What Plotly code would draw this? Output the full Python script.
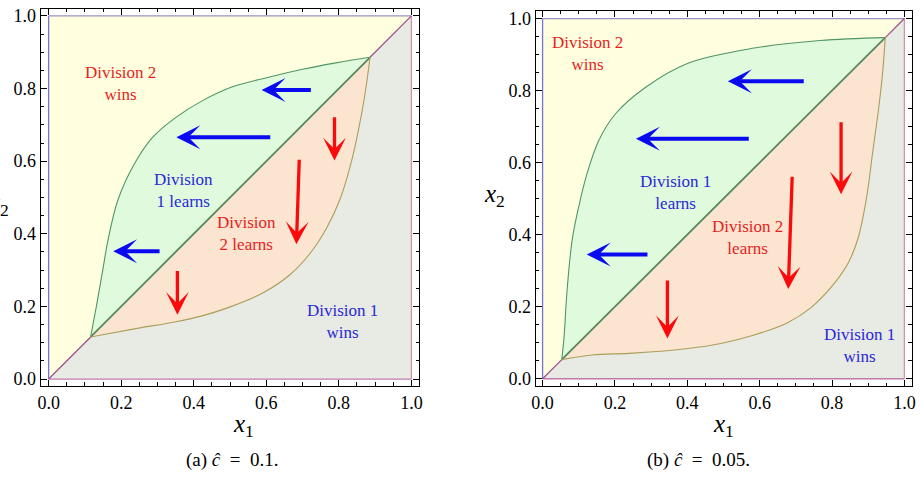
import plotly.graph_objects as go

# ---------------- data ----------------
tick_vals = [0.0, 0.2, 0.4, 0.6, 0.8, 1.0]
tick_text = ["0.0", "0.2", "0.4", "0.6", "0.8", "1.0"]
minor_vals = [0.05, 0.10, 0.15, 0.25, 0.30, 0.35, 0.45, 0.50, 0.55,
              0.65, 0.70, 0.75, 0.85, 0.90, 0.95]

# panel (a) c = 0.1
upper_a_x = [0.116, 0.124, 0.132, 0.148, 0.164, 0.191, 0.235, 0.287, 0.350, 0.423, 0.505, 0.606, 0.700, 0.788, 0.886]
upper_a_y = [0.116, 0.160, 0.202, 0.293, 0.384, 0.493, 0.590, 0.666, 0.720, 0.766, 0.804, 0.831, 0.853, 0.870, 0.886]
lower_a_x = [0.116, 0.160, 0.241, 0.351, 0.423, 0.493, 0.590, 0.666, 0.720, 0.766, 0.804, 0.835, 0.855, 0.872, 0.886]
lower_a_y = [0.116, 0.124, 0.139, 0.158, 0.174, 0.196, 0.237, 0.288, 0.345, 0.415, 0.497, 0.600, 0.690, 0.785, 0.886]

# panel (b) c = 0.05
upper_b_x = [0.053, 0.059, 0.068, 0.082, 0.100, 0.123, 0.155, 0.201, 0.283, 0.402, 0.585, 0.767, 0.947]
upper_b_y = [0.053, 0.112, 0.249, 0.387, 0.478, 0.570, 0.661, 0.735, 0.808, 0.876, 0.918, 0.939, 0.947]
lower_b_x = [0.053, 0.137, 0.250, 0.402, 0.493, 0.580, 0.676, 0.740, 0.804, 0.845, 0.872, 0.895, 0.913, 0.930, 0.941, 0.947]
lower_b_y = [0.053, 0.066, 0.071, 0.084, 0.098, 0.120, 0.155, 0.196, 0.262, 0.322, 0.390, 0.500, 0.634, 0.760, 0.863, 0.947]

# arrows: (tail_x, tail_y, tip_x, tip_y)
blue_arrows_a = [(0.727, 0.796, 0.587, 0.796), (0.615, 0.666, 0.352, 0.666), (0.310, 0.352, 0.178, 0.352)]
red_arrows_a = [(0.788, 0.725, 0.788, 0.602), (0.691, 0.608, 0.683, 0.371), (0.355, 0.302, 0.355, 0.177)]
blue_arrows_b = [(0.726, 0.826, 0.512, 0.826), (0.574, 0.666, 0.258, 0.666), (0.294, 0.345, 0.122, 0.345)]
red_arrows_b = [(0.825, 0.716, 0.825, 0.512), (0.690, 0.565, 0.679, 0.249), (0.345, 0.277, 0.345, 0.112)]

# region labels: (x, y, text, colour-key)
labels_a = [(0.199, 0.815, "Division 2<br>wins", "r"), (0.372, 0.518, "Division<br>1 learns", "b"),
            (0.546, 0.400, "Division<br>2 learns", "r"), (0.810, 0.159, "Division 1<br>wins", "b")]
labels_b = [(0.125, 0.903, "Division 2<br>wins", "r"), (0.368, 0.518, "Division 1<br>learns", "b"),
            (0.566, 0.392, "Division 2<br>learns", "r"), (0.875, 0.093, "Division 1<br>wins", "b")]

captions = ["(a) <i>ĉ</i>  =  0.1.", "(b) <i>ĉ</i>  =  0.05."]

# ---------------- style ----------------
SERIF = "Liberation Serif"
C_YEL = "rgb(255,254,222)"
C_GRN = "rgb(224,250,222)"
C_ORA = "rgb(251,228,208)"
C_GRY = "rgb(232,234,228)"
TXT = {"r": "rgb(230,30,30)", "b": "rgb(40,40,215)"}

fig = go.Figure()


def add_panel(xa, ya, ux, uy, lx, ly):
    xr, yr = xa, ya
    fig.add_trace(go.Scatter(x=[0, 1, 0], y=[0, 1, 1], fill="toself",
                             fillcolor=C_YEL, line=dict(width=0), mode="lines",
                             xaxis=xr, yaxis=yr, hoverinfo="skip"))
    fig.add_trace(go.Scatter(x=[0, 1, 1], y=[0, 1, 0], fill="toself",
                             fillcolor=C_GRY, line=dict(width=0), mode="lines",
                             xaxis=xr, yaxis=yr, hoverinfo="skip"))
    fig.add_trace(go.Scatter(x=ux, y=uy, fill="toself", fillcolor=C_GRN,
                             line=dict(width=0, shape="spline", smoothing=1.0),
                             mode="lines", xaxis=xr, yaxis=yr, hoverinfo="skip"))
    fig.add_trace(go.Scatter(x=lx, y=ly, fill="toself", fillcolor=C_ORA,
                             line=dict(width=0, shape="spline", smoothing=1.0),
                             mode="lines", xaxis=xr, yaxis=yr, hoverinfo="skip"))
    c0, c1 = ux[0], ux[-1]
    lines = [
        ([0, 0], [0, 1], "rgb(115,115,215)", 1.3),
        ([0, 1], [1, 1], "rgb(150,145,195)", 1.3),
        ([1, 1], [0, 1], "rgb(205,150,175)", 1.3),
        ([0, 1], [0, 0], "rgb(195,120,170)", 1.3),
        ([0, c0], [0, c0], "rgb(160,80,140)", 1.3),
        ([c1, 1], [c1, 1], "rgb(160,80,140)", 1.3),
        ([c0, c1], [c0, c1], "rgb(85,135,90)", 1.8),
    ]
    for lxs, lys, col, w in lines:
        fig.add_trace(go.Scatter(x=lxs, y=lys, mode="lines", line=dict(color=col, width=w),
                                 xaxis=xr, yaxis=yr, hoverinfo="skip"))
    fig.add_trace(go.Scatter(x=ux, y=uy, mode="lines",
                             line=dict(color="rgb(80,150,100)", width=1.1, shape="spline", smoothing=1.0),
                             xaxis=xr, yaxis=yr, hoverinfo="skip"))
    fig.add_trace(go.Scatter(x=lx, y=ly, mode="lines",
                             line=dict(color="rgb(170,158,90)", width=1.1, shape="spline", smoothing=1.0),
                             xaxis=xr, yaxis=yr, hoverinfo="skip"))


add_panel("x", "y", upper_a_x, upper_a_y, lower_a_x, lower_a_y)
add_panel("x2", "y2", upper_b_x, upper_b_y, lower_b_x, lower_b_y)

ann = []


def arrows(lst, color, width, size, xr, yr):
    for tx, ty, hx, hy in lst:
        ann.append(dict(x=hx, y=hy, ax=tx, ay=ty, xref=xr, yref=yr, axref=xr, ayref=yr,
                        text="", showarrow=True, arrowhead=3, arrowsize=size,
                        arrowwidth=width, arrowcolor=color, standoff=0, startstandoff=0))


arrows(blue_arrows_a, "rgb(10,10,240)", 4.0, 1.0, "x", "y")
arrows(red_arrows_a, "rgb(250,10,10)", 3.3, 1.15, "x", "y")
arrows(blue_arrows_b, "rgb(10,10,240)", 4.0, 1.0, "x2", "y2")
arrows(red_arrows_b, "rgb(250,10,10)", 3.3, 1.15, "x2", "y2")

for labs, xr, yr in [(labels_a, "x", "y"), (labels_b, "x2", "y2")]:
    for lx_, ly_, t, k in labs:
        ann.append(dict(x=lx_, y=ly_, xref=xr, yref=yr, text=t, showarrow=False,
                        xanchor="center", yanchor="middle",
                        font=dict(family=SERIF, size=17, color=TXT[k]), align="center"))

W, H = 920, 480


def paper_text(px, py, text, size):
    ann.append(dict(x=px / W, y=1 - py / H, xref="paper", yref="paper", showarrow=False,
                    xanchor="center", yanchor="middle", text=text,
                    font=dict(family=SERIF, size=size, color="black")))


paper_text(242, 428, "<i>x</i><sub>1</sub>", 25)
paper_text(726, 428, "<i>x</i><sub>1</sub>", 25)
paper_text(495, 196, "<i>x</i><sub>2</sub>", 25)
paper_text(-6, 205, "<i>x</i><sub>2</sub>", 25)
paper_text(230, 463, captions[0], 19)
paper_text(701, 463, captions[1], 19)


def axis(domain, rng, anchor):
    return dict(domain=domain, range=rng, anchor=anchor, showgrid=False, zeroline=False,
                showline=True, linecolor="black", linewidth=1, mirror="allticks",
                ticks="inside", ticklen=6, tickwidth=1, tickcolor="black",
                tickvals=tick_vals, ticktext=tick_text,
                tickfont=dict(family=SERIF, size=18, color="black"),
                minor=dict(tickvals=minor_vals, ticks="inside", ticklen=3.5,
                           tickwidth=1, tickcolor="black", showgrid=False))


fig.update_layout(
    width=W, height=H, margin=dict(l=0, r=0, t=0, b=0),
    paper_bgcolor="white", plot_bgcolor="white", showlegend=False,
    xaxis=axis([37 / W, 419 / W], [-0.0219, 1.0219], "y"),
    yaxis=axis([1 - 388 / H, 1 - 6.7 / H], [-0.019, 1.020], "x"),
    xaxis2=axis([536.3 / W, 915.7 / W], [-0.0192, 1.0203], "y2"),
    yaxis2=axis([1 - 388.3 / H, 1 - 9 / H], [-0.0209, 1.0212], "x2"),
    annotations=ann,
)

fig.write_html("out.html")
